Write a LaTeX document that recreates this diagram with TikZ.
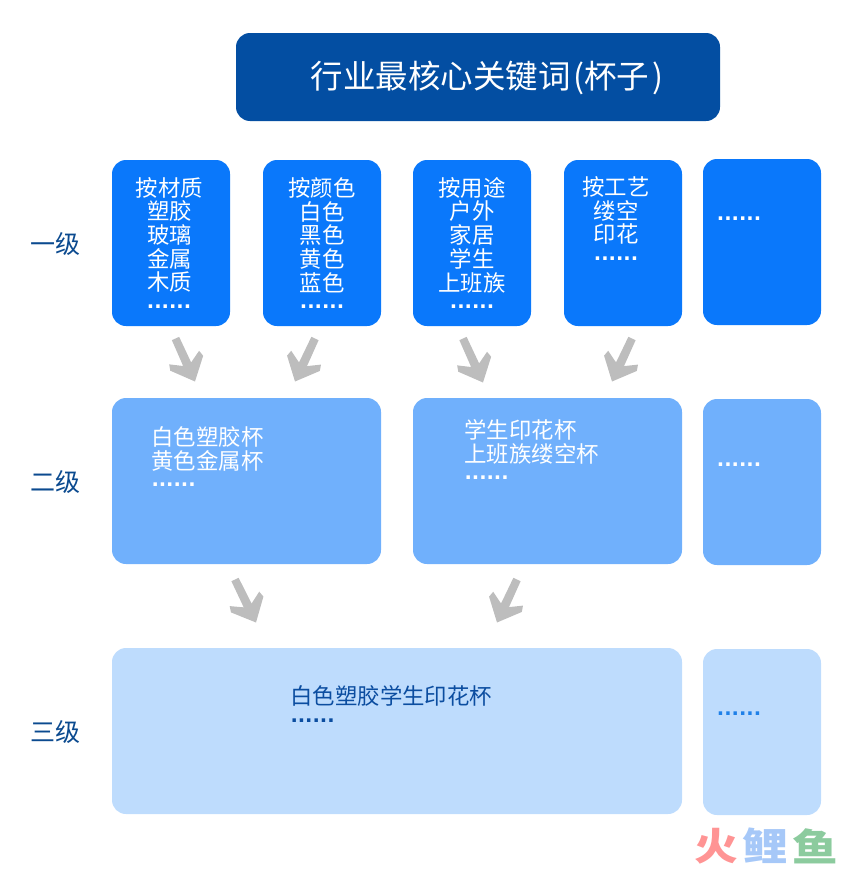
\documentclass[tikz,border=0pt]{standalone}
\usepackage{fontspec}
\usetikzlibrary{calc}
\setmainfont{Noto Sans CJK SC}
\newfontfamily\dotfam{DejaVu Sans}
\definecolor{cTitle}{HTML}{034EA2}
\definecolor{cOne}{HTML}{0A78FB}
\definecolor{cTwo}{HTML}{70B0FC}
\definecolor{cThree}{HTML}{BEDCFD}
\definecolor{cLabel}{HTML}{0B4A8F}
\definecolor{cDark}{HTML}{0B4DA0}
\definecolor{cDots}{HTML}{1E80E8}
\definecolor{cArrow}{HTML}{BDBDBD}
\definecolor{cLogoA}{HTML}{FF9494}
\definecolor{cLogoB}{HTML}{A6C8F8}
\definecolor{cLogoC}{HTML}{8CCB9E}
\tikzset{
  every node/.style={inner sep=0pt,outer sep=0pt},
  card/.style={rounded corners=14pt,draw=none},
  one/.style={card,fill=cOne},
  two/.style={card,fill=cTwo},
  three/.style={card,fill=cThree},
  body/.style={font=\fontsize{22.4}{23.7}\selectfont,align=center,text=white},
  level/.style={font=\fontsize{25}{26}\selectfont,text=cLabel},
  dotrow/.style={font=\dotfam\bfseries\fontsize{19.4}{20}\selectfont,anchor=base,text=white},
  logo/.style={font=\fontsize{38}{40}\selectfont\bfseries},
}
% chevron arrow from start coordinate #1 to tip coordinate #2
\newcommand{\chevron}[2]{%
  \fill[cArrow] (#2)
    -- ($(#2)!27pt!42:(#1)$)
    -- ($(#2)!31pt!32:(#1)$)
    -- ($(#2)!19.5pt!13:(#1)$)
    -- ($(#1)!4pt!-90:(#2)$)
    -- ($(#1)!4pt!90:(#2)$)
    -- ($(#2)!19.5pt!-13:(#1)$)
    -- ($(#2)!31pt!-32:(#1)$)
    -- ($(#2)!27pt!-42:(#1)$)
    -- cycle;}
\begin{document}
\begin{tikzpicture}[x=1pt,y=-1pt]
\useasboundingbox (0,0) rectangle (862,870);
\fill[cTitle,rounded corners=14pt] (236,33) rectangle (720,121);
\node[font=\fontsize{32.5}{36}\selectfont,text=white,anchor=west] (title) at (310.5,78) {行业最核心关键词\kern3pt(杯子\kern3pt)};
% level 1 boxes
\fill[one] (112,160) rectangle (230,326);
\fill[one] (263,160) rectangle (381,326);
\fill[one] (413,160) rectangle (531,326);
\fill[one] (564,160) rectangle (682,326);
\fill[one] (703,159) rectangle (821,325);
% level 2
\fill[two] (112,398) rectangle (381,564);
\fill[two] (413,398) rectangle (682,564);
\fill[two] (703,399) rectangle (821,565);
% level 3
\fill[three] (112,648) rectangle (682,814);
\fill[three] (703,649) rectangle (821,815);
% level labels
\node[level] (l1) at (55,244) {一级};
\node[level] (l2) at (55,482) {二级};
\node[level] (l3) at (55,732) {三级};
% level 1 text
\node[body] (a) at (169.5,235) {按材质\\塑胶\\玻璃\\金属\\木质};
\node[dotrow] (ad) at (169,308) {......};
\node[body] (b) at (322,235) {按颜色\\白色\\黑色\\黄色\\蓝色};
\node[dotrow] (bd) at (322,308) {......};
\node[body] (c) at (472,235) {按用途\\户外\\家居\\学生\\上班族};
\node[dotrow] (cd) at (472,308) {......};
\node[body] (d) at (616,210.5) {按工艺\\缕空\\印花};
\node[dotrow] (dd) at (616,260) {......};
\node[dotrow] (e) at (739,220) {......};
% level 2 text
\node[body,align=left,anchor=north west] (f) at (151.5,426.5) {白色塑胶杯\\黄色金属杯};
\node[dotrow,anchor=base west] (fd) at (151.5,486) {......};
\node[body,align=left,anchor=north west] (g) at (464.5,419.5) {学生印花杯\\上班族缕空杯};
\node[dotrow,anchor=base west] (gd) at (464.5,479) {......};
\node[dotrow] (h) at (739,466) {......};
% level 3 text
\node[body,anchor=north west,text=cDark] (i) at (290.5,685.5) {白色塑胶学生印花杯};
\node[dotrow,anchor=base west,text=cDark] (id) at (290.5,722) {......};
\node[dotrow,text=cDots] (j) at (739,715) {......};
% arrows
\coordinate (s1) at (175.5,338.5); \coordinate (e1) at (195,381.5);
\coordinate (s2) at (315,338.5); \coordinate (e2) at (295,381.5);
\coordinate (s3) at (463,338.5); \coordinate (e3) at (483,382.5);
\coordinate (s4) at (632,338.5); \coordinate (e4) at (612,381.5);
\coordinate (s5) at (235,579.5); \coordinate (e5) at (256,622.5);
\coordinate (s6) at (517,579.5); \coordinate (e6) at (497,622.5);
\chevron{s1}{e1}
\chevron{s2}{e2}
\chevron{s3}{e3}
\chevron{s4}{e4}
\chevron{s5}{e5}
\chevron{s6}{e6}
% logo
\node[logo,text=cLogoA] (m1) at (716,846) {\scalebox{1.15}[1]{火}};
\node[logo,text=cLogoB] (m2) at (765.5,846) {\scalebox{1.2}[1]{鲤}};
\node[logo,text=cLogoC] (m3) at (815.5,846) {\scalebox{1.2}[1]{鱼}};
\end{tikzpicture}
\end{document}
